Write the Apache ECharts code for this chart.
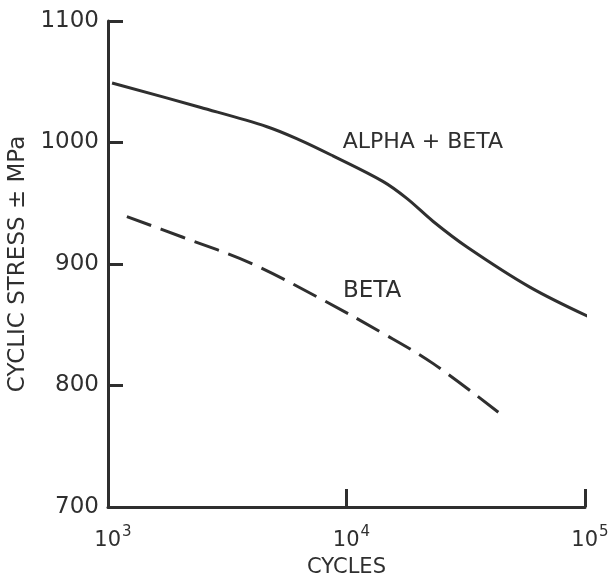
<!DOCTYPE html>
<html>
<head>
<meta charset="utf-8">
<script src="https://cdn.jsdelivr.net/npm/echarts@6/dist/echarts.min.js"></script>
<style>
  html, body { margin: 0; padding: 0; background: #fff; }
  #chart { width: 614px; height: 581px; }
</style>
</head>
<body>
<div id="chart"></div>
<script>
// values (cycles on log axis, stress in MPa)
const alphaBetaCycles = [1040, 2430, 4640, 6380, 8770, 14200, 17900, 23100, 32000, 58700, 108000];
const alphaBetaStress = [1049, 1029, 1013, 1002, 989, 968, 954, 935, 914, 881, 855];
const betaCycles = [1200, 2060, 3940, 7520, 14200, 23100, 46700];
const betaStress = [939, 922, 901, 873, 843, 818, 773];
const yTicks = [700, 800, 900, 1000, 1100];
const xTickExponents = [3, 4, 5];

// where the curve names sit (data coords)
const alphaBetaLabelAt = [20900, 1000];
const betaLabelAt = [12800, 878];

const ink = '#2f2f2f';
const font = 'DejaVu Sans';

function zip(xs, ys) {
    let out = [];
    for (let i = 0; i < xs.length; i++) out.push([xs[i], ys[i]]);
    return out;
}

let myChart = echarts.init(document.getElementById('chart'));

let option = {
    backgroundColor: '#fff',
    animation: false,
    grid: { left: 108, right: 29, top: 21, bottom: 74, containLabel: false, outerBoundsMode: 'none' },
    xAxis: {
        type: 'log',
        logBase: 10,
        min: Math.pow(10, xTickExponents[0]),
        max: Math.pow(10, xTickExponents[xTickExponents.length - 1]),
        name: 'CYCLES',
        nameLocation: 'middle',
        nameGap: 50,
        nameTextStyle: { fontFamily: font, fontSize: 21, color: ink },
        axisLine: { lineStyle: { color: ink, width: 3 } },
        axisTick: { inside: true, length: 18, lineStyle: { color: ink, width: 3 } },
        splitLine: { show: false },
        minorTick: { show: false },
        axisLabel: {
            margin: 18,
            formatter: function (value) {
                return '{b|10}{s|' + Math.round(Math.log10(value)) + '}';
            },
            rich: {
                b: { fontFamily: font, fontSize: 21, color: ink, verticalAlign: 'bottom', lineHeight: 26, padding: [0, 0, 0, 10] },
                s: { fontFamily: font, fontSize: 15, color: ink, verticalAlign: 'top', lineHeight: 26, padding: [0, 0, 0, 1] }
            }
        }
    },
    yAxis: {
        type: 'value',
        min: yTicks[0],
        max: yTicks[yTicks.length - 1],
        interval: 100,
        name: 'CYCLIC STRESS ± MPa',
        nameLocation: 'middle',
        nameRotate: 90,
        nameGap: 72,
        nameTextStyle: { fontFamily: font, fontSize: 23, color: ink },
        axisLine: { show: true, lineStyle: { color: ink, width: 3 } },
        axisTick: { show: true, inside: true, length: 15, lineStyle: { color: ink, width: 3 } },
        splitLine: { show: false },
        axisLabel: {
            margin: 9, fontFamily: font, fontSize: 23, color: ink,
            formatter: function (value) { return String(value); }
        }
    },
    series: [
        {
            type: 'line',
            name: 'ALPHA + BETA',
            data: zip(alphaBetaCycles, alphaBetaStress),
            smooth: 0.35,
            showSymbol: false,
            clip: false,
            lineStyle: { color: ink, width: 3 },
            markPoint: {
                silent: true,
                symbol: 'circle',
                symbolSize: 0,
                data: [{ coord: alphaBetaLabelAt }],
                label: {
                    show: true, position: 'inside', formatter: 'ALPHA + BETA',
                    fontFamily: font, fontSize: 22, color: ink
                }
            }
        },
        {
            type: 'line',
            name: 'BETA',
            data: zip(betaCycles, betaStress),
            smooth: 0.35,
            showSymbol: false,
            clip: false,
            lineStyle: { color: ink, width: 3, type: [26, 10] },
            markPoint: {
                silent: true,
                symbol: 'circle',
                symbolSize: 0,
                data: [{ coord: betaLabelAt }],
                label: {
                    show: true, position: 'inside', formatter: 'BETA',
                    fontFamily: font, fontSize: 23, color: ink
                }
            }
        }
    ]
};
myChart.setOption(option, true);
</script>
</body>
</html>
